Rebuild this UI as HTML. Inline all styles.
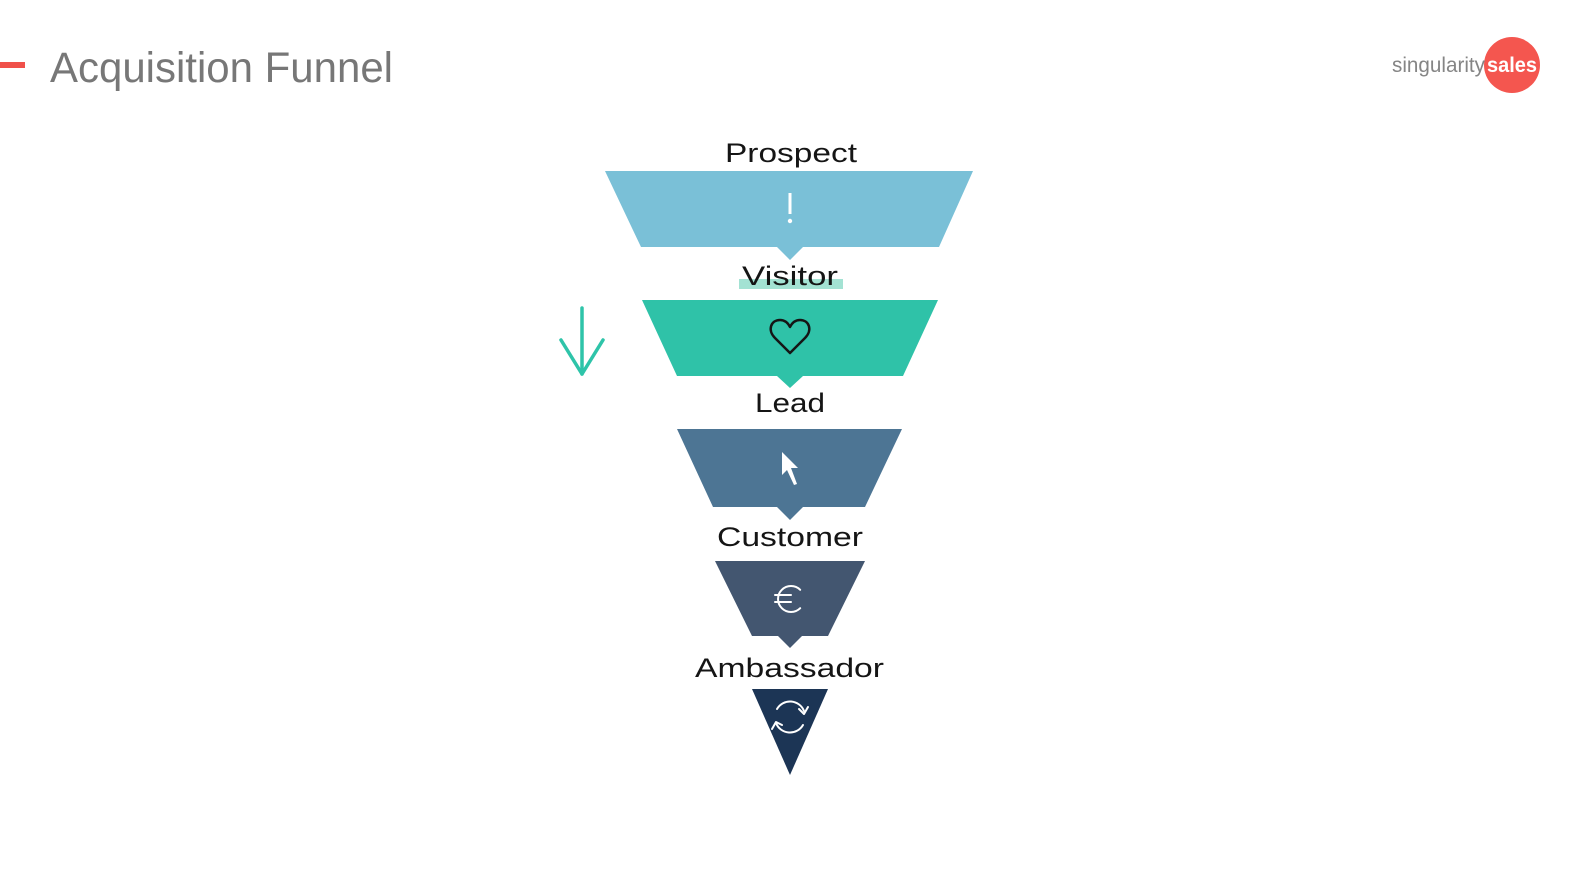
<!DOCTYPE html>
<html>
<head>
<meta charset="utf-8">
<style>
  html, body { margin: 0; padding: 0; background: #ffffff; }
  body { width: 1578px; height: 882px; overflow: hidden; }
  svg { display: block; }
  .lbl { font-family: "Liberation Sans", sans-serif; font-size: 27px; fill: #151515; }
</style>
</head>
<body>
<svg width="1578" height="882" viewBox="0 0 1578 882" xmlns="http://www.w3.org/2000/svg">
  <rect x="0" y="0" width="1578" height="882" fill="#ffffff"/>

  <!-- Title -->
  <rect x="0" y="62" width="25" height="6" fill="#f0504a"/>
  <text x="50" y="82" font-family="Liberation Sans, sans-serif" font-size="43" fill="#777777" textLength="343" lengthAdjust="spacingAndGlyphs">Acquisition Funnel</text>

  <!-- Logo -->
  <circle cx="1512" cy="65" r="28" fill="#f4564f"/>
  <text x="1392" y="72" font-family="Liberation Sans, sans-serif" font-size="21" fill="#858585" textLength="93" lengthAdjust="spacingAndGlyphs">singularity</text>
  <text x="1487" y="72" font-family="Liberation Sans, sans-serif" font-size="21" font-weight="bold" fill="#ffffff" textLength="50" lengthAdjust="spacingAndGlyphs">sales</text>

  <!-- Prospect -->
  <text class="lbl" x="725" y="162" textLength="132" lengthAdjust="spacingAndGlyphs">Prospect</text>
  <polygon points="605,171 973,171 939,247 803,247 790,260 777,247 641,247" fill="#7ac0d7"/>
  <rect x="788.5" y="193" width="3" height="21" fill="#ffffff"/>
  <circle cx="790" cy="221" r="2.2" fill="#ffffff"/>

  <!-- Visitor -->
  <rect x="739" y="279" width="104" height="10" fill="#a3e2d3"/>
  <text class="lbl" x="742" y="285" textLength="96" lengthAdjust="spacingAndGlyphs">Visitor</text>
  <polygon points="642,300 938,300 903,376 803,376 790,388 777,376 677,376" fill="#2fc2a8"/>
  <path d="M790 353 L775 338 C767 330 771 320 780 320 C785 320 788 323 790 327 C792 323 795 320 800 320 C809 320 813 330 805 338 Z" fill="none" stroke="#151515" stroke-width="2.5" stroke-linejoin="round"/>

  <!-- Left arrow -->
  <g stroke="#2ec4a9" stroke-width="3.5" stroke-linecap="round" stroke-linejoin="round" fill="none">
    <line x1="582" y1="308" x2="582" y2="374"/>
    <polyline points="561,340 582,374 603,340"/>
  </g>

  <!-- Lead -->
  <text class="lbl" x="755" y="412" textLength="70" lengthAdjust="spacingAndGlyphs">Lead</text>
  <polygon points="677,429 902,429 865,507 803,507 790,520 777,507 713,507" fill="#4d7594"/>
  <polygon points="782,452 782,475 787,470 794,485 797,484 791,468 798,468" fill="#ffffff"/>

  <!-- Customer -->
  <text class="lbl" x="717" y="546" textLength="146" lengthAdjust="spacingAndGlyphs">Customer</text>
  <polygon points="715,561 865,561 828,636 802,636 790,648 778,636 752,636" fill="#435670"/>
  <g stroke="#ffffff" stroke-width="2" fill="none" stroke-linecap="round">
    <path d="M800.2 589.8 A13 13 0 1 0 800.2 608.2"/>
    <line x1="775" y1="595" x2="791" y2="595"/>
    <line x1="775" y1="602" x2="791" y2="602"/>
  </g>

  <!-- Ambassador -->
  <text class="lbl" x="695" y="677" textLength="189" lengthAdjust="spacingAndGlyphs">Ambassador</text>
  <polygon points="752,689 828,689 790,775" fill="#1c3555"/>
  <g stroke="#ffffff" stroke-width="2" fill="none" stroke-linecap="round" stroke-linejoin="round">
    <path d="M777 709 A15 15 0 0 1 804 711"/>
    <polyline points="799,709 804,714 808,707"/>
    <path d="M803 725 A15 15 0 0 1 776 723"/>
    <polyline points="772,729 776,722 782,725"/>
  </g>
</svg>
</body>
</html>
